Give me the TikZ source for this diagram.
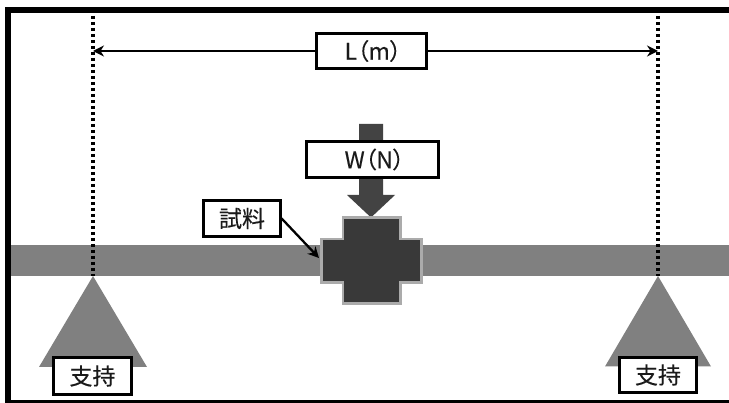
\documentclass[tikz,border=0pt]{standalone}
\usepackage{fontspec}
\setmainfont{Noto Sans CJK JP}[RawFeature=+palt,FakeBold=0.25]
\usetikzlibrary{arrows.meta}
\definecolor{beamgray}{HTML}{808080}
\definecolor{loadgray}{HTML}{434343}
\definecolor{crossgray}{HTML}{393939}
\definecolor{crossedge}{HTML}{ABABAB}
\definecolor{labelink}{HTML}{1A1A1A}
\tikzset{
  x=1pt,y=-1pt,
  labelbox/.style={draw=black,line width=2.3pt,fill=white,inner sep=0pt,text=labelink,font=\fontsize{23}{23}\selectfont},
  pointer/.style={draw=black,line width=2.3pt,-{Stealth[length=11pt,width=11pt]}},
  dotline/.style={draw=black,line width=3.2pt,dash pattern=on 3pt off 3pt},
  solid gray/.style={fill=beamgray,draw=none},
}
\begin{document}
\begin{tikzpicture}
\useasboundingbox (0,0) rectangle (729,403);
\fill[white] (0,0) rectangle (729,403);
% frame
\fill[black] (5,7) rectangle (729,13);
\fill[black] (5,7) rectangle (10.5,403);
\fill[black] (5,400) rectangle (729,403);
% beam
\fill[beamgray] (10.5,245.5) rectangle (729,276);
% supports
\coordinate (apexL) at (93,276);
\coordinate (apexR) at (658,276);
\coordinate (topL) at (93,16);
\coordinate (topR) at (658,16);
\coordinate (dimL) at (93,51);
\coordinate (dimR) at (658,51);
\path[solid gray] (apexL) -- (147,367) -- (39,367) -- cycle;
\path[solid gray] (apexR) -- (711,366.5) -- (605,366.5) -- cycle;
\draw[dotline] (topL) -- (apexL);
\draw[dotline] (topR) -- (apexR);
% load arrow
\fill[loadgray] (359,124) -- (383,124) -- (383,195) -- (395,195) -- (371,217.5) -- (347,195) -- (359,195) -- cycle;
% specimen
\draw[fill=crossgray,draw=crossedge,line width=2.4pt] (343,217.5) -- (400.5,217.5) -- (400.5,239) -- (421.5,239) -- (421.5,282.5) -- (400.5,282.5) -- (400.5,303.5) -- (343,303.5) -- (343,282.5) -- (321.5,282.5) -- (321.5,239) -- (343,239) -- cycle;
\coordinate (specimen) at (319,258);
% dimension
\draw[pointer,{Stealth[length=11pt,width=11pt]}-{Stealth[length=11pt,width=11pt]}] (dimL) -- (dimR);
% labels
\node[labelbox,minimum width=110pt,minimum height=35pt] (len) at (371.5,51) {\hspace{3pt}L（m）};
\node[labelbox,minimum width=132pt,minimum height=36pt] (load) at (372.5,159.5) {\hspace{4pt}W（N）};
\node[labelbox,minimum width=77pt,minimum height=36pt] (sample) at (242,218.5) {試料};
\node[labelbox,minimum width=78pt,minimum height=37pt] (supL) at (92.5,376) {支持};
\node[labelbox,minimum width=77pt,minimum height=35pt] (supR) at (658,375) {支持};
\draw[pointer] (sample.east) -- (specimen);
\end{tikzpicture}
\end{document}
